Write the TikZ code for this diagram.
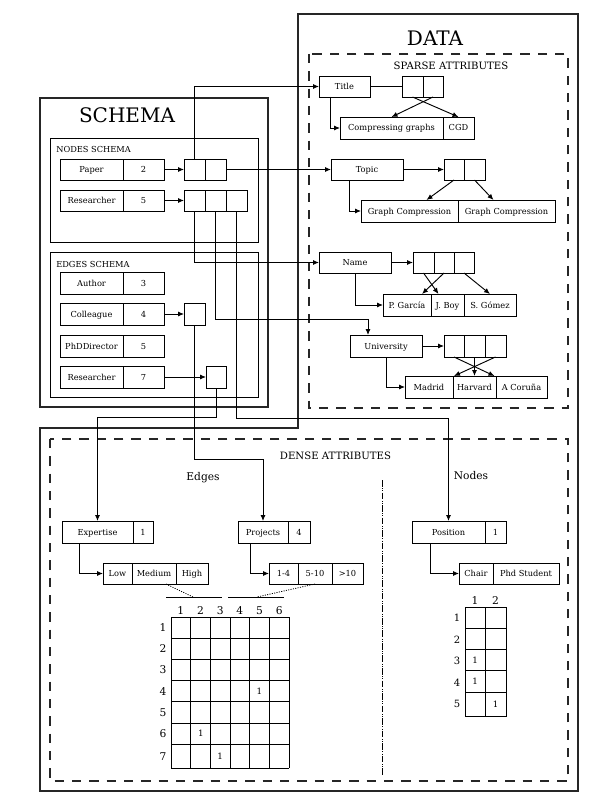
\documentclass[tikz,border=0pt]{standalone}
\usepackage{fontspec}
\setmainfont{DejaVu Serif}
\usetikzlibrary{arrows.meta,calc}
\tikzset{
  cell/.style={draw, line width=0.7pt, inner sep=0pt, outer sep=0pt, font=\fontsize{6.2}{7}\selectfont, text height=4.5pt, text depth=0pt, anchor=center},
  arr/.style={-{Latex[length=4.5pt,width=3.8pt]}, line width=0.7pt},
  ln/.style={line width=0.7pt},
  dots/.style={line width=0.6pt, dash pattern=on 0.8pt off 1pt},
  outerbox/.style={line width=0.9pt, draw=black!85},
  innerbox/.style={line width=0.7pt},
  dashbox/.style={line width=1.1pt, draw=black!85, dash pattern=on 7pt off 6pt},
  dashdotline/.style={line width=0.5pt, dash pattern=on 5pt off 1.2pt on 0.4pt off 1.2pt on 0.4pt off 1.2pt},
  gridln/.style={line width=0.7pt},
  big/.style={inner sep=0pt, font=\fontsize{15}{18}\selectfont, text height=10.9pt, text depth=0pt},
  lbl/.style={inner sep=0pt, font=\fontsize{6.2}{7}\selectfont, text height=4.5pt, text depth=0pt},
  sec/.style={inner sep=0pt, font=\fontsize{7.6}{9}\selectfont, text height=5.5pt, text depth=0pt},
  sub/.style={inner sep=0pt, font=\fontsize{8}{10}\selectfont, text height=5.8pt, text depth=0pt},
  hdr/.style={inner sep=0pt, font=\fontsize{8}{10}\selectfont, text height=5.8pt, text depth=0pt},
  hdrs/.style={inner sep=0pt, font=\fontsize{7.5}{9}\selectfont, text height=5.4pt, text depth=0pt},
  entry/.style={inner sep=0pt, font=\fontsize{6.5}{8}\selectfont, text height=4.7pt, text depth=0pt},
}
\newcommand\mkcell[6]{\node[cell, minimum width={(#4-#2)*0.75pt}, minimum height={(#5-#3)*0.75pt}] (#1) at ({(#2+#4)/2},{(#3+#5)/2}) {#6};}
\begin{document}
\begin{tikzpicture}[x=0.75pt,y=-0.75pt]
\fill[white] (0,0) rectangle (613,806);
\useasboundingbox (0,0) rectangle (613,806);

% ---------- frames ----------
\draw[outerbox] (40,98) rectangle (268,407);
\draw[innerbox] (50,138) rectangle (258,242);
\draw[innerbox] (50,252) rectangle (258,397);
\draw[outerbox] (298,14) -- (578,14) -- (578,791) -- (40,791) -- (40,428) -- (298,428) -- cycle;
\draw[dashbox] (309,54) rectangle (568,408);
\draw[dashbox] (50,439) rectangle (568,781);
\coordinate (ddtop) at (382,480);
\coordinate (ddbot) at (382,775);
\draw[dashdotline] (ddtop) -- (ddbot);

% ---------- titles ----------
\node[big] (schemat) at (127,115) {SCHEMA};
\node[big] (datat) at (435,38) {DATA};
\node[lbl, anchor=west] (nst) at (56,149.5) {NODES SCHEMA};
\node[lbl, anchor=west] (est) at (56,264) {EDGES SCHEMA};
\node[sec] (spt) at (451,65.5) {SPARSE ATTRIBUTES};
\node[sec] (dnt) at (335.5,456) {DENSE ATTRIBUTES};
\node[sub] (edt) at (203,477) {Edges};
\node[sub] (ndt) at (471,476) {Nodes};

% ---------- schema ----------
\mkcell{paper}{60}{159}{123}{180}{Paper}
\mkcell{papern}{123}{159}{164}{180}{2}
\mkcell{pa1}{184}{159}{205}{180}{}
\mkcell{pa2}{205}{159}{226}{180}{}
\mkcell{res}{60}{190}{123}{211}{Researcher}
\mkcell{resn}{123}{190}{164}{211}{5}
\mkcell{ra1}{184}{190}{205}{211}{}
\mkcell{ra2}{205}{190}{226}{211}{}
\mkcell{ra3}{226}{190}{247}{211}{}
\mkcell{auth}{60}{272}{123}{294}{Author}
\mkcell{authn}{123}{272}{164}{294}{3}
\mkcell{coll}{60}{303}{123}{325}{Colleague}
\mkcell{colln}{123}{303}{164}{325}{4}
\mkcell{cb}{184}{303}{205}{325}{}
\mkcell{phd}{60}{335}{123}{357}{PhDDirector}
\mkcell{phdn}{123}{335}{164}{357}{5}
\mkcell{rese}{60}{366}{123}{388}{Researcher}
\mkcell{resen}{123}{366}{164}{388}{7}
\mkcell{rb}{206}{366}{226}{388}{}

\draw[arr] (papern.east) -- (pa1.west);
\draw[arr] (resn.east) -- (ra1.west);
\draw[arr] (colln.east) -- (cb.west);
\draw[arr] (resen.east) -- (rb.west);

% ---------- sparse attributes ----------
\mkcell{title}{319}{76}{370}{97}{Title}
\mkcell{ta1}{402}{76}{423}{97}{}
\mkcell{ta2}{423}{76}{443}{97}{}
\mkcell{tv1}{340}{117}{443}{139}{Compressing graphs}
\mkcell{tv2}{443}{117}{474}{139}{CGD}

\mkcell{topic}{331}{159}{403}{180}{Topic}
\mkcell{tpa1}{444}{159}{464}{180}{}
\mkcell{tpa2}{464}{159}{485}{180}{}
\mkcell{tpv1}{361}{200}{458}{222}{Graph Compression}
\mkcell{tpv2}{458}{200}{555}{222}{Graph Compression}

\mkcell{name}{319}{252}{391}{273}{Name}
\mkcell{na1}{413}{252}{434}{273}{}
\mkcell{na2}{434}{252}{454}{273}{}
\mkcell{na3}{454}{252}{474}{273}{}
\mkcell{nv1}{383}{294}{431}{316}{P. García}
\mkcell{nv2}{431}{294}{464}{316}{J. Boy}
\mkcell{nv3}{464}{294}{516}{316}{S. Gómez}

\mkcell{univ}{350}{335}{422}{357}{University}
\mkcell{ua1}{444}{335}{464}{357}{}
\mkcell{ua2}{464}{335}{485}{357}{}
\mkcell{ua3}{485}{335}{506}{357}{}
\mkcell{uv1}{405}{376}{453}{398}{Madrid}
\mkcell{uv2}{453}{376}{496}{398}{Harvard}
\mkcell{uv3}{496}{376}{547}{398}{A Coruña}

\draw[ln] (title.east) -- (ta1.west);
\draw[arr] ($(title.south west)+(11,0)$) |- (tv1.west);
\draw[arr] (ta1.south) -- (tv2.north);
\draw[arr] (ta2.south) -- (tv1.north);
\draw[arr] (topic.east) -- (tpa1.west);
\draw[arr] ($(topic.south west)+(18,0)$) |- (tpv1.west);
\draw[arr] (tpa1.south) -- ($(tpv1.north)+(17,0)$);
\draw[arr] (tpa2.south) -- ($(tpv2.north)+(-13,0)$);
\draw[arr] (name.east) -- (na1.west);
\draw[arr] (name.south) |- (nv1.west);
\draw[arr] (na1.south) -- ($(nv2.north)+(-9,0)$);
\draw[arr] (na2.south) -- ($(nv1.north)+(15,0)$);
\draw[arr] (na3.south) -- (nv3.north);
\draw[arr] (univ.east) -- (ua1.west);
\draw[arr] (univ.south) |- (uv1.west);
\draw[arr] (ua1.south) -- ($(uv3.north)+(-27,0)$);
\draw[arr] (ua2.south) -- (uv2.north);
\draw[arr] (ua3.south) -- ($(uv1.north)+(25,0)$);

% ---------- dense attributes ----------
\mkcell{exp}{62}{521}{133}{543}{Expertise}
\mkcell{expn}{133}{521}{153}{543}{1}
\mkcell{ev1}{103}{563}{132}{584}{Low}
\mkcell{ev2}{132}{563}{176}{584}{Medium}
\mkcell{ev3}{176}{563}{208}{584}{High}
\mkcell{proj}{238}{521}{288}{543}{Projects}
\mkcell{projn}{288}{521}{310}{543}{4}
\mkcell{pv1}{269}{563}{298}{584}{1-4}
\mkcell{pv2}{298}{563}{332}{584}{5-10}
\mkcell{pv3}{332}{563}{363}{584}{>10}
\mkcell{pos}{412}{521}{485}{543}{Position}
\mkcell{posn}{485}{521}{506}{543}{1}
\mkcell{posv1}{459}{563}{493}{584}{Chair}
\mkcell{posv2}{493}{563}{559}{584}{Phd Student}

\draw[arr] ($(exp.south west)+(17,0)$) |- (ev1.west);
\draw[arr] ($(proj.south west)+(12,0)$) |- (pv1.west);
\draw[arr] ($(pos.south west)+(18,0)$) |- (posv1.west);

% ---------- schema -> data connectors ----------
\draw[arr] (pa1.north) |- (title.west);
\draw[arr] (pa2.east) -- (topic.west);
\draw[arr] (ra1.south) |- (name.west);
\draw[arr] (ra2.south) -- ++(0,108) -| ($(univ.north west)+(18,0)$);
\draw[arr] (ra3.south) -- ++(0,207) -| (pos.north);
\draw[arr] (cb.south) -- ++(0,134) -| (proj.north);
\draw[arr] (rb.south) -- ++(0,29) -| (exp.north);

% ---------- braces ----------
\coordinate (b1l) at (166,597);
\coordinate (b1r) at (222,597);
\coordinate (b1m) at (193,597);
\coordinate (b2l) at (228,597);
\coordinate (b2r) at (284,597);
\coordinate (b2m) at (257,597);
\draw[ln] (b1l) -- (b1r);
\draw[ln] (b2l) -- (b2r);
\draw[dots] ($(ev2.south east)+(-10,0)$) -- (b1m);
\draw[dots] (pv2.south) -- (b2m);

% ---------- edge matrix ----------
\foreach \i in {0,...,6} \draw[gridln] ({171+\i*19.667},617) -- ({171+\i*19.667},768.2);
\foreach \y in {617,638.2,659.4,680.6,701.8,723,744.2,768.2} \draw[gridln] (171,\y) -- (289,\y);
\foreach \i in {1,...,6} \node[hdr] (mc\i) at ({171+(\i-0.5)*19.667},610.5) {\i};
\foreach \j/\y in {1/627.6,2/648.8,3/670,4/691.2,5/712.4,6/733.6,7/756.2} \node[hdr] (mr\j) at (163,\y) {\j};
\node[entry] (m45) at (259.5,691.2) {1};
\node[entry] (m62) at (200.8,733.6) {1};
\node[entry] (m73) at (220.2,756.2) {1};

% ---------- node matrix ----------
\foreach \x in {465,485.5,506} \draw[gridln] (\x,607.3) -- (\x,716.7);
\foreach \y in {607.3,628.3,649.3,670.7,692.7,716.7} \draw[gridln] (465,\y) -- (506,\y);
\node[hdr] (nc1) at (475,600.5) {1};
\node[hdr] (nc2) at (495.5,600.5) {2};
\foreach \j/\y in {1/618,2/639.5,3/661,4/682.5,5/704} \node[hdrs] (nr\j) at (457,\y) {\j};
\node[entry] (n31) at (475,660) {1};
\node[entry] (n41) at (475,681.7) {1};
\node[entry] (n52) at (495.5,704.7) {1};
\end{tikzpicture}
\end{document}
